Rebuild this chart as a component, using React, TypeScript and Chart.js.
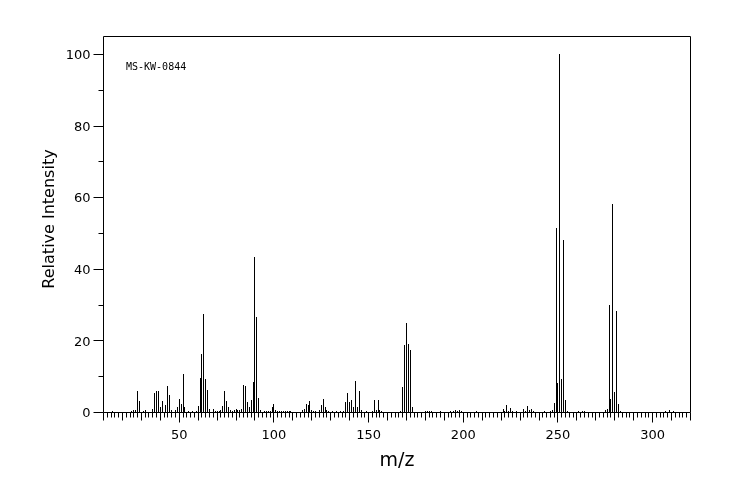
import { useEffect, useRef } from "react";
import { Chart, registerables } from "chart.js";

Chart.register(...registerables);

const mzValues = [
  15, 25, 26, 27, 28, 29, 31, 32, 36, 37, 38, 39, 40, 41, 43, 44, 45, 46, 48, 49,
  50, 51, 52, 53, 55, 57, 59, 60, 61, 62, 63, 64, 65, 66, 68, 69, 70, 71, 72, 73,
  74, 75, 76, 77, 78, 79, 80, 81, 82, 83, 84, 85, 86, 87, 88, 89, 90, 91, 92, 93,
  95, 96, 97, 98, 99, 100, 101, 102, 103, 104, 105, 106, 107, 108, 109, 115, 116, 117, 118, 119,
  120, 121, 122, 124, 125, 126, 127, 128, 129, 131, 133, 135, 137, 138, 139, 140, 141, 142, 143, 144,
  145, 146, 149, 152, 153, 154, 155, 156, 157, 167, 168, 169, 170, 171, 172, 173, 180, 181, 182, 183,
  188, 193, 195, 196, 197, 198, 199, 207, 221, 222, 223, 224, 225, 226, 228, 232, 233, 234, 235, 236,
  237, 243, 246, 247, 248, 249, 250, 251, 252, 253, 254, 255, 261, 263, 264, 275, 276, 277, 278, 279,
  280, 281, 282, 283, 307, 309, 311,
];

const intensities = [
  0.4, 0.5, 0.6, 0.6, 6.0, 3.2, 0.5, 0.7, 0.9, 5.5, 6.0, 6.0, 1.5, 3.2, 2.0, 7.3, 4.8, 0.7, 0.65, 1.5,
  3.7, 2.3, 10.8, 1.5, 0.4, 0.4, 0.4, 1.7, 9.6, 16.3, 27.5, 9.3, 6.2, 0.9, 0.9, 0.4, 0.4, 0.4, 0.6, 1.8,
  6.0, 3.2, 1.6, 0.65, 0.5, 0.65, 0.9, 0.65, 0.65, 0.9, 7.6, 7.3, 3.0, 1.5, 3.4, 8.5, 43.4, 26.7, 4.0, 0.65,
  0.5, 0.4, 0.4, 0.4, 1.5, 2.3, 0.65, 0.4, 0.4, 0.4, 0.4, 0.4, 0.4, 0.4, 0.4, 0.65, 0.9, 2.3, 2.0, 3.2,
  0.65, 0.4, 0.4, 0.65, 2.0, 3.7, 1.6, 0.65, 0.4, 0.4, 0.4, 0.4, 0.4, 3.0, 5.4, 2.9, 3.4, 1.5, 8.7, 1.5,
  6.0, 0.65, 0.4, 0.4, 3.4, 0.65, 3.4, 0.65, 0.4, 0.4, 7.1, 18.8, 25.0, 19.1, 17.4, 1.5, 0.4, 0.4, 0.4, 0.4,
  0.4, 0.4, 0.4, 0.65, 0.4, 0.65, 0.4, 0.4, 0.9, 0.4, 2.0, 0.4, 1.2, 0.4, 0.4, 0.9, 0.4, 1.8, 0.65, 0.9,
  0.4, 0.4, 0.4, 0.65, 2.6, 51.5, 8.2, 100, 9.3, 48.2, 3.4, 0.4, 0.4, 0.4, 0.4, 0.65, 0.9, 30.0, 3.7, 58.2,
  5.7, 28.4, 2.3, 0.4, 0.4, 0.65, 0.4,
];

const xTickLabels = [50, 100, 150, 200, 250, 300];
const yTickLabels = [0, 20, 40, 60, 80, 100];
const xTitle = "m/z";
const yTitle = "Relative Intensity";
const sampleLabel = "MS-KW-0844";

const X_MIN = 10;
const X_MAX = 320;
const Y_MIN = 0;
const Y_MAX = 105;

export default function App() {
  const ref = useRef<HTMLCanvasElement>(null);

  useEffect(() => {
    const canvas = ref.current;
    if (!canvas) return;

    const decor = {
      id: "decor",
      beforeDatasetsDraw(chart: any) {
        const ctx = chart.ctx;
        const meta = chart.getDatasetMeta(0);
        ctx.save();
        ctx.strokeStyle = "#000";
        ctx.lineWidth = 1;
        ctx.beginPath();
        meta.data.forEach((el: any) => {
          const x = Math.floor(el.x) + 0.5;
          ctx.moveTo(x, Math.floor(el.base));
          ctx.lineTo(x, Math.round(el.y));
        });
        ctx.stroke();
        ctx.restore();
        return false;
      },
      afterDraw(chart: any) {
        const ctx = chart.ctx;
        const xs = chart.scales.x;
        const ys = chart.scales.y;
        const a = chart.chartArea;
        const L = Math.floor(a.left) + 0.5;
        const R = Math.floor(a.right) + 0.5;
        const T = Math.floor(a.top) + 0.5;
        const B = Math.floor(a.bottom) + 0.5;
        ctx.save();
        ctx.strokeStyle = "#000";
        ctx.fillStyle = "#000";
        ctx.lineWidth = 1;
        ctx.beginPath();
        ctx.rect(L, T, R - L, B - T);
        ctx.stroke();

        // x ticks
        ctx.beginPath();
        for (let v = X_MIN; v <= X_MAX; v += 2) {
          const px = Math.floor(xs.getPixelForValue(v)) + 0.5;
          const len = v % 50 === 0 ? 10 : v % 10 === 0 ? 8 : 5;
          ctx.moveTo(px, B);
          ctx.lineTo(px, B + len);
        }
        // y ticks
        for (let v = 0; v <= 100; v += 10) {
          const py = Math.floor(ys.getPixelForValue(v)) + 0.5;
          const len = v % 20 === 0 ? 10 : 5;
          ctx.moveTo(L, py);
          ctx.lineTo(L - len, py);
        }
        ctx.stroke();

        ctx.font = "13px 'DejaVu Sans'";
        ctx.textBaseline = "alphabetic";
        ctx.textAlign = "center";
        xTickLabels.forEach((v) => {
          ctx.fillText(String(v), xs.getPixelForValue(v), 439);
        });
        ctx.textAlign = "right";
        yTickLabels.forEach((v) => {
          ctx.fillText(String(v), L - 13, ys.getPixelForValue(v) + 4.7);
        });

        ctx.font = "19px 'DejaVu Sans'";
        ctx.textAlign = "center";
        ctx.fillText(xTitle, (a.left + a.right) / 2, 466);

        ctx.save();
        ctx.translate(54, 219);
        ctx.rotate(-Math.PI / 2);
        ctx.font = "16px 'DejaVu Sans'";
        ctx.textAlign = "center";
        ctx.fillText(yTitle, 0, 0);
        ctx.restore();

        ctx.font = "10px 'DejaVu Sans Mono'";
        ctx.textAlign = "left";
        ctx.fillText(sampleLabel, 126, 69.5);
        ctx.restore();
      },
    };

    const chart = new Chart(canvas, {
      type: "bar",
      data: {
        datasets: [
          {
            data: mzValues.map((m, i) => ({ x: m, y: intensities[i] })),
            backgroundColor: "#000",
            barThickness: 1,
          },
        ],
      },
      options: {
        animation: false,
        responsive: false,
        devicePixelRatio: 1,
        layout: { padding: { left: 0, top: 36.5, right: 53.5, bottom: 0 } },
        plugins: { legend: { display: false }, tooltip: { enabled: false } },
        scales: {
          x: {
            type: "linear",
            min: X_MIN,
            max: X_MAX,
            offset: false,
            grid: { display: false },
            border: { display: false },
            ticks: { display: false },
            afterFit: (s: any) => {
              s.height = 87.5;
            },
          },
          y: {
            type: "linear",
            min: Y_MIN,
            max: Y_MAX,
            grid: { display: false },
            border: { display: false },
            ticks: { display: false },
            afterFit: (s: any) => {
              s.width = 103.5;
            },
          },
        },
      } as any,
      plugins: [decor],
    });

    return () => chart.destroy();
  }, []);

  return (
    <canvas
      ref={ref}
      width={744}
      height={500}
      style={{ position: "absolute", left: 0, top: 0 }}
    />
  );
}
